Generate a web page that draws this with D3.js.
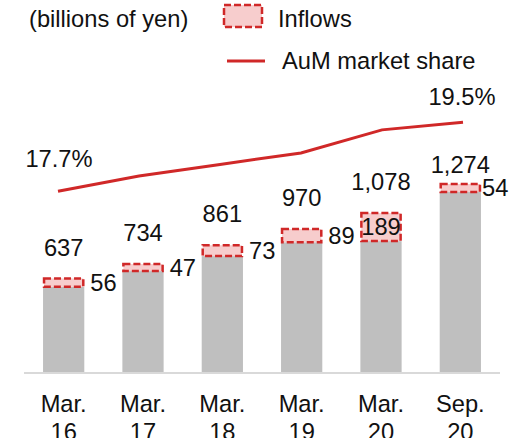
<!DOCTYPE html>
<html>
<head>
<meta charset="utf-8">
<script src="https://cdn.jsdelivr.net/npm/d3@7"></script>
<style>
  body { margin: 0; background: #fff; }
  text { font-family: "Liberation Sans", Arial, sans-serif; fill: #111; }
</style>
</head>
<body>
<svg id="svg1" width="513" height="438"></svg>
<script>
const categories = [["Mar.", "16"], ["Mar.", "17"], ["Mar.", "18"], ["Mar.", "19"], ["Mar.", "20"], ["Sep.", "20"]];
const totals = [637, 734, 861, 970, 1078, 1274];
const inflows = [56, 47, 73, 89, 189, 54];
const share = [17.7, 18.1, 18.4, 18.7, 19.3, 19.5];
const shareLabels = ["17.7%", "", "", "", "", "19.5%"];

const svg = d3.select("#svg1");
const fontSize = 23.7;
const red = "#d02828";

const x = d3.scaleBand()
    .domain(d3.range(categories.length))
    .range([24, 500])
    .paddingInner(0.48)
    .paddingOuter(0.24);

// line series sits on its own (slightly wider) category axis
const xLine = d3.scalePoint()
    .domain(d3.range(categories.length))
    .range([58, 463]);

const y = d3.scaleLinear().domain([0, 1274]).range([373, 184]);
const yShare = d3.scaleLinear().domain([15, 20]).range([295, 103]);

// axis line
svg.append("line")
    .attr("x1", 24).attr("x2", 500)
    .attr("y1", 373).attr("y2", 373)
    .attr("stroke", "#d9d9d9")
    .attr("stroke-width", 2);

const bars = svg.append("g");

// base (AuM before inflows)
bars.selectAll("rect.base")
    .data(totals)
    .enter().append("rect")
    .attr("class", "base")
    .attr("x", (d, i) => x(i))
    .attr("width", x.bandwidth())
    .attr("y", (d, i) => y(d - inflows[i]))
    .attr("height", (d, i) => y(0) - y(d - inflows[i]) - 1)
    .attr("fill", "#bfbfbf");

// inflows
bars.selectAll("rect.inflow")
    .data(totals)
    .enter().append("rect")
    .attr("class", "inflow")
    .attr("x", (d, i) => x(i) + 1)
    .attr("width", x.bandwidth() - 2)
    .attr("y", d => y(d))
    .attr("height", (d, i) => y(d - inflows[i]) - y(d))
    .attr("fill", "#f7cdcd")
    .attr("stroke", red)
    .attr("stroke-width", 2.5)
    .attr("stroke-dasharray", "7,3");

// total labels
svg.selectAll("text.total")
    .data(totals)
    .enter().append("text")
    .attr("class", "total")
    .attr("x", (d, i) => x(i) + x.bandwidth() / 2)
    .attr("y", (d, i) => y(d) - (i === totals.length - 1 ? 11 : 23))
    .attr("text-anchor", "middle")
    .attr("font-size", fontSize)
    .text(d => d3.format(",")(d));

// inflow labels
svg.selectAll("text.inflow")
    .data(inflows)
    .enter().append("text")
    .attr("class", "inflow")
    .each(function (d, i) {
        const h = y(totals[i] - d) - y(totals[i]);
        const inside = h > 24;
        d3.select(this)
            .attr("x", inside ? x(i) + x.bandwidth() / 2 : x(i) + x.bandwidth() + (i === inflows.length - 1 ? 1 : 6))
            .attr("y", y(totals[i]) + h / 2)
            .attr("dy", "0.35em")
            .attr("text-anchor", inside ? "middle" : "start");
    })
    .attr("font-size", fontSize)
    .text(d => d);

// market share line
const line = d3.line()
    .x((d, i) => xLine(i))
    .y(d => yShare(d));

svg.append("path")
    .datum(share)
    .attr("d", line)
    .attr("fill", "none")
    .attr("stroke", red)
    .attr("stroke-width", 3);

svg.selectAll("text.share")
    .data(share)
    .enter().append("text")
    .attr("class", "share")
    .attr("x", (d, i) => xLine(i) + (i === 0 ? 1 : -1))
    .attr("y", (d, i) => yShare(d) - (i === 0 ? 24 : 17))
    .attr("text-anchor", "middle")
    .attr("font-size", fontSize)
    .text((d, i) => shareLabels[i]);

// category labels
const cat = svg.selectAll("text.cat")
    .data(categories)
    .enter().append("text")
    .attr("class", "cat")
    .attr("text-anchor", "middle")
    .attr("font-size", fontSize)
    .attr("transform", (d, i) => "translate(" + (x(i) + x.bandwidth() / 2) + ",412)");
cat.append("tspan").attr("x", 0).attr("y", 0).text(d => d[0]);
cat.append("tspan").attr("x", 0).attr("y", 28).text(d => d[1]);

// unit + legend
svg.append("text")
    .attr("x", 29).attr("y", 27)
    .attr("font-size", fontSize)
    .text("(billions of yen)");

svg.append("rect")
    .attr("x", 224).attr("y", 5)
    .attr("width", 38).attr("height", 22)
    .attr("fill", "#f7cdcd")
    .attr("stroke", red)
    .attr("stroke-width", 2.5)
    .attr("stroke-dasharray", "7,3");
svg.append("text")
    .attr("x", 278).attr("y", 27)
    .attr("font-size", fontSize)
    .text("Inflows");

svg.append("line")
    .attr("x1", 227).attr("x2", 265)
    .attr("y1", 61).attr("y2", 61)
    .attr("stroke", red)
    .attr("stroke-width", 3);
svg.append("text")
    .attr("x", 282).attr("y", 69)
    .attr("font-size", fontSize)
    .text("AuM market share");
</script>
</body>
</html>
